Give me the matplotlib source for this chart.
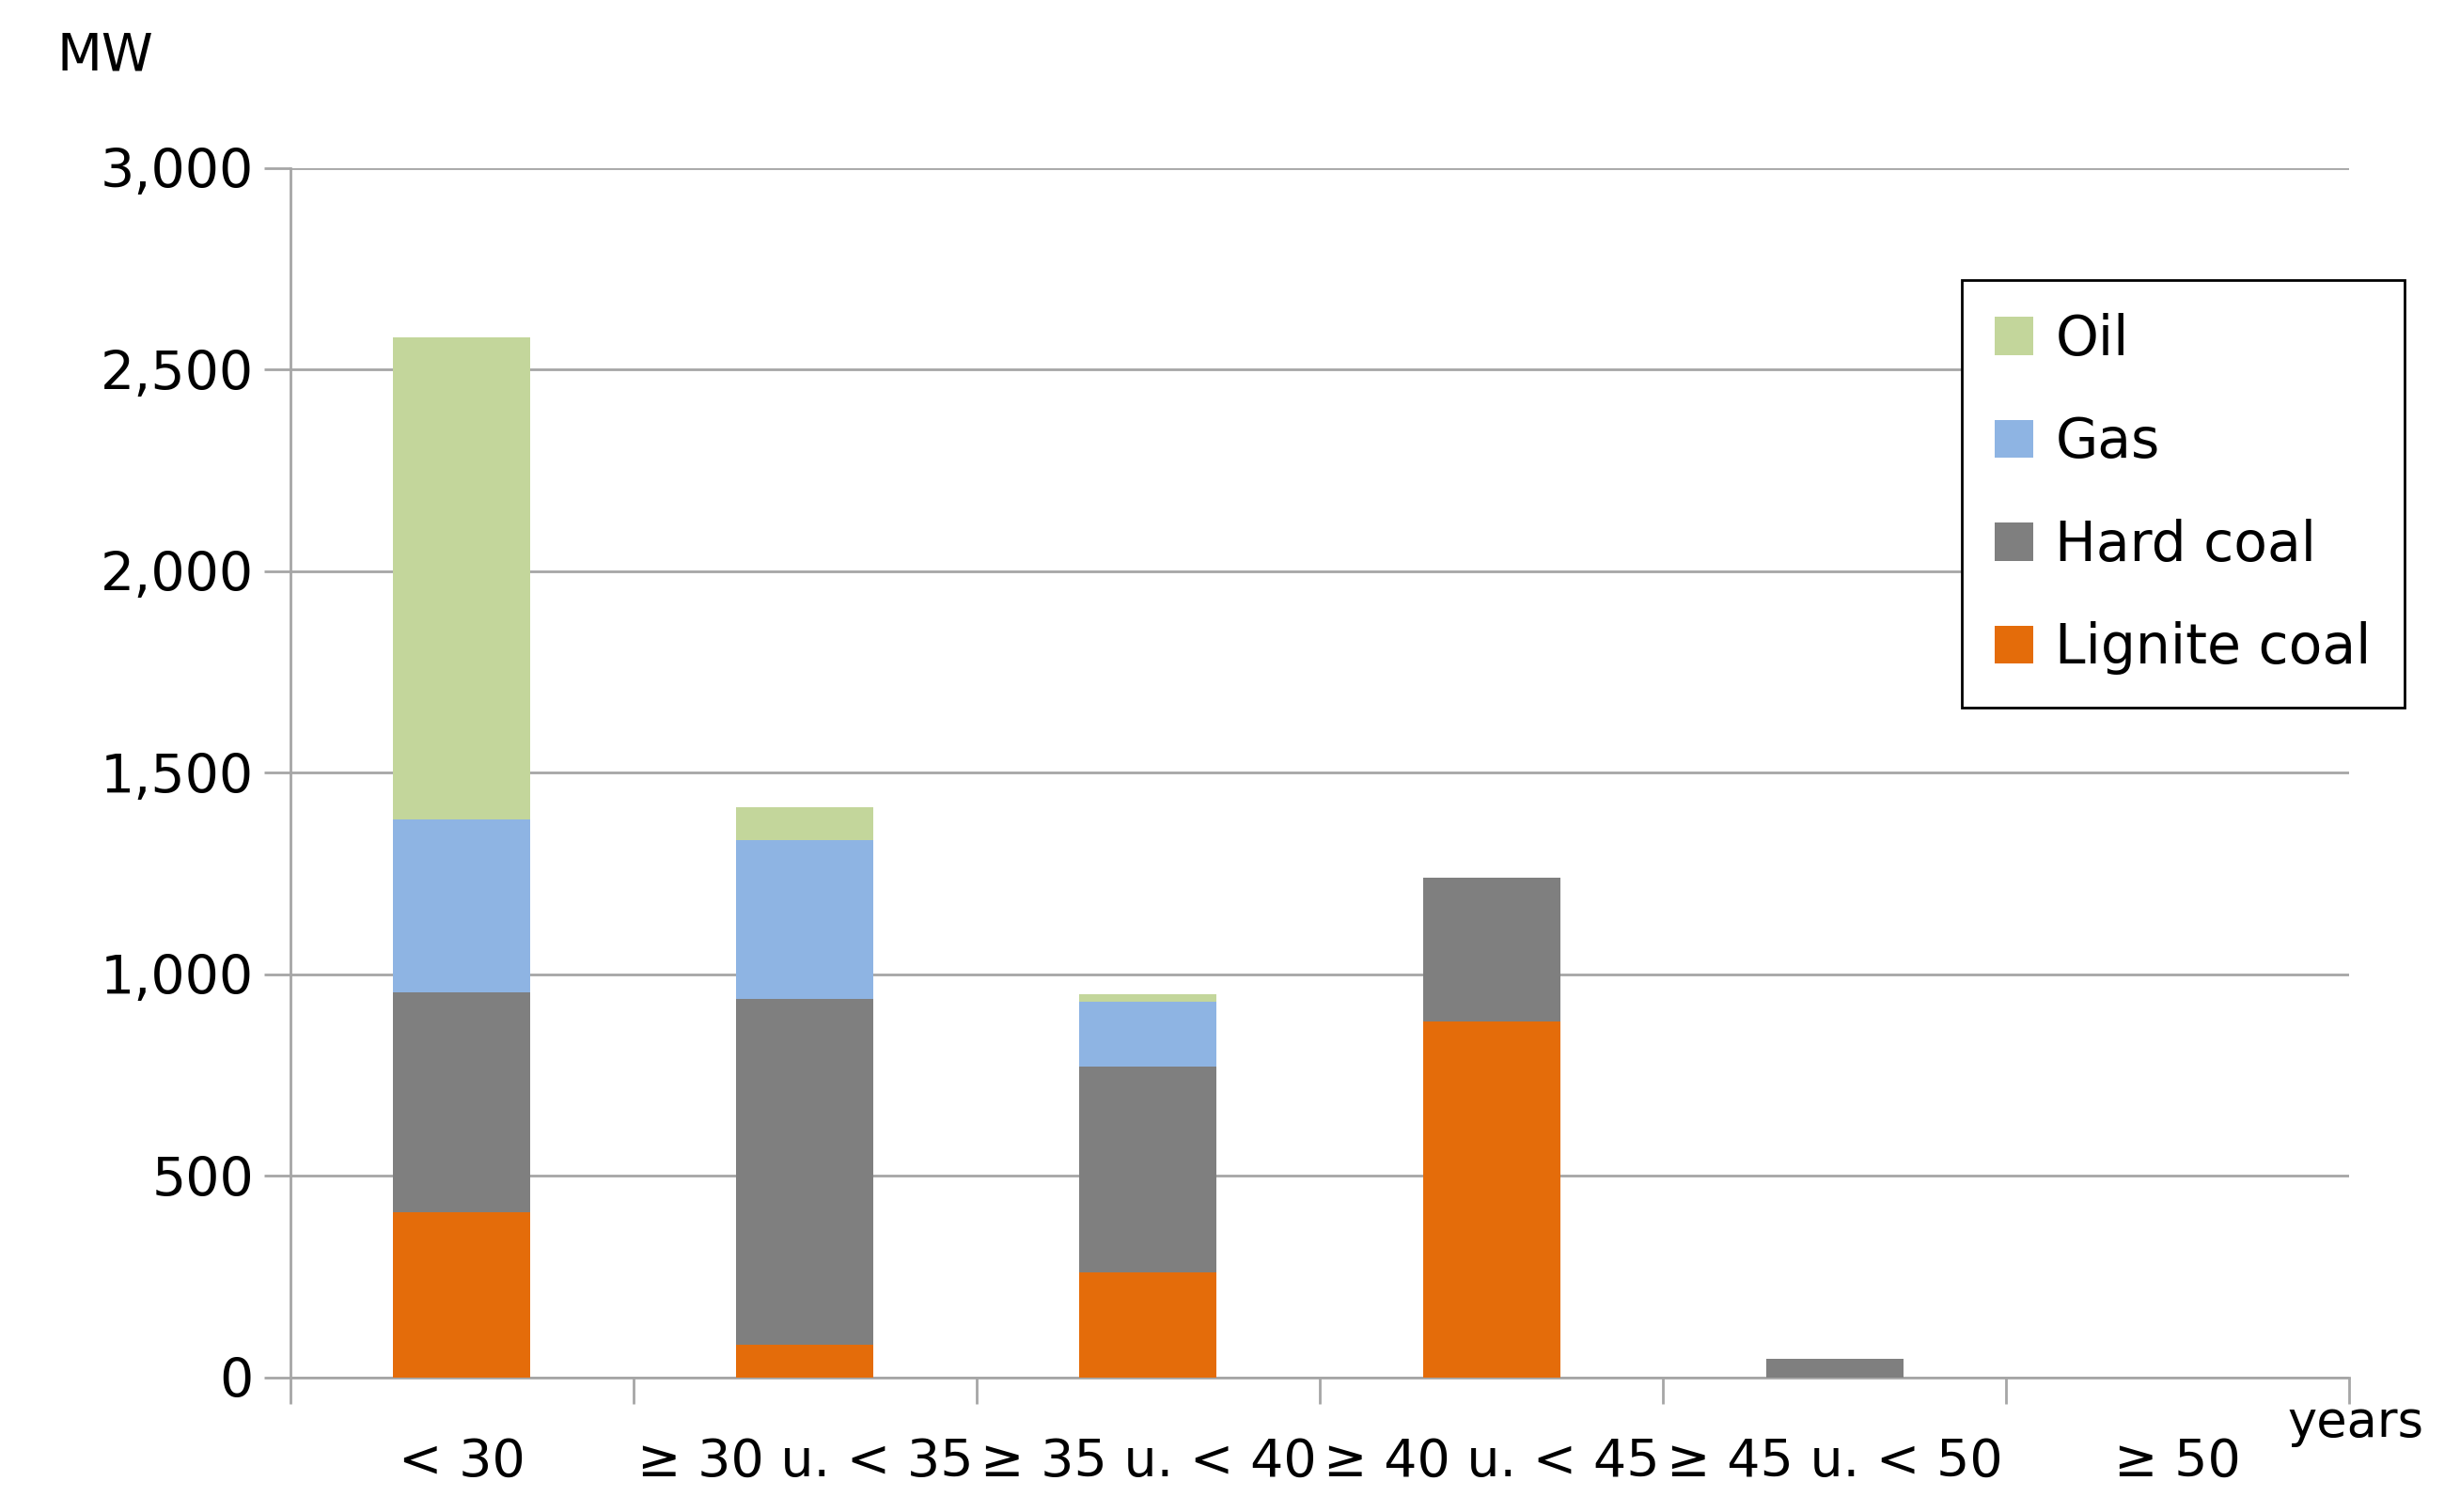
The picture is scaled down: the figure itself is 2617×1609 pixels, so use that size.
import matplotlib
matplotlib.use("Agg")
import matplotlib.pyplot as plt
import numpy as np

categories = ["< 30", "≥ 30 u. < 35", "≥ 35 u. < 40", "≥ 40 u. < 45", "≥ 45 u. < 50", "≥ 50"]
lignite = [410, 82, 261, 884, 0, 0]
hard_coal = [544, 857, 510, 355, 47, 0]
gas = [429, 393, 160, 0, 0, 0]
oil = [1196, 82, 19, 0, 0, 0]

colors = {"Lignite coal": "#E46C0A", "Hard coal": "#7F7F7F", "Gas": "#8EB4E3", "Oil": "#C3D69B"}

fig = plt.figure(figsize=(26.17, 16.09), dpi=100)
ax = fig.add_axes([0.118, 0.089, 0.837, 0.8])

x = np.arange(len(categories))
bottom = np.zeros(len(categories))
handles = {}
for name, vals in [("Lignite coal", lignite), ("Hard coal", hard_coal), ("Gas", gas), ("Oil", oil)]:
    handles[name] = ax.bar(x, vals, 0.4, bottom=bottom, color=colors[name], zorder=3)
    bottom += np.array(vals)

ax.set_xlim(-0.5, len(categories) - 0.5)
ax.set_ylim(0, 3000)
ax.set_yticks(range(0, 3001, 500))
ax.set_yticklabels([f"{v:,}" for v in range(0, 3001, 500)], fontsize=41)
ax.grid(axis="y", color="#A6A6A6", linewidth=2, zorder=0)
for s in ["top", "right"]:
    ax.spines[s].set_visible(False)
for s in ["left", "bottom"]:
    ax.spines[s].set_color("#A6A6A6")
    ax.spines[s].set_linewidth(2)
ax.tick_params(axis="y", length=20, width=2, color="#A6A6A6", pad=8)

ax.set_xticks(np.arange(-0.5, len(categories), 1.0))
ax.set_xticklabels([])
ax.tick_params(axis="x", length=20, width=2, color="#A6A6A6")
ax.set_xticks(x, minor=True)
ax.set_xticklabels(categories, minor=True, fontsize=40)
ax.tick_params(axis="x", which="minor", length=0, pad=45)

fig.text(0.023, 0.98, "MW", fontsize=40, va="top")
fig.text(0.93, 0.05, "years", fontsize=38)

order = ["Oil", "Gas", "Hard coal", "Lignite coal"]
leg = ax.legend([handles[n] for n in order], order, loc="upper right",
                bbox_to_anchor=(1.04, 0.93), fontsize=42, frameon=True, fancybox=False,
                framealpha=1, edgecolor="black", labelspacing=0.9, handlelength=0.7,
                handleheight=0.7, handletextpad=0.4, borderpad=0.6)
leg.get_frame().set_linewidth(2)
leg.set_zorder(5)

fig.savefig("out.png", dpi=100, facecolor="white")
